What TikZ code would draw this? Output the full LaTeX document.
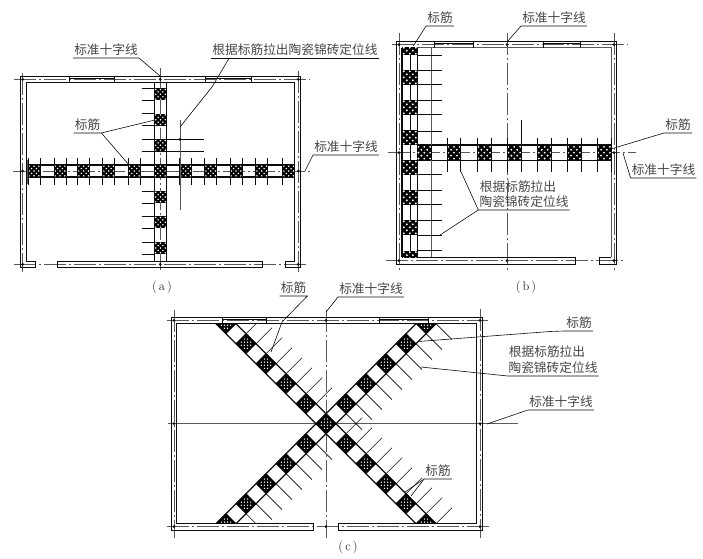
\documentclass[tikz,border=0pt]{standalone}
\usepackage{fontspec}
\newfontfamily\cjk{Noto Sans CJK SC}
\definecolor{ink}{gray}{0.05}
\definecolor{axisgrey}{gray}{0.35}
\tikzset{
  wall/.style={draw=ink,line width=0.9pt},
  winline/.style={draw=ink,line width=1.2pt},
  band/.style={draw=ink,line width=1.3pt},
  tickline/.style={draw=ink,line width=0.65pt},
  axisline/.style={draw=axisgrey,line width=0.6pt,dash pattern=on 22pt off 3pt on 2pt off 3pt},
  solidgrey/.style={draw=axisgrey,line width=0.9pt},
  leader/.style={draw=ink,line width=0.6pt},
  lbl/.style={font=\cjk\fontsize{12.7}{15}\selectfont,text=black!72,inner xsep=1pt,inner ysep=0pt,text height=12.5pt,text depth=3pt},
  captext/.style={font=\fontsize{12.5}{14}\selectfont,text=black!85,inner sep=0pt},
  axdot/.style={circle,fill=ink,inner sep=0pt,minimum size=3pt}
}
\newcommand\sqpat[3]{%
  \fill[black] ({#1-#3},{#2-#3}) rectangle ({#1+#3},{#2+#3});
  \foreach \ii in {-2,...,2}{\foreach \jj in {-2,...,2}{%
    \pgfmathtruncatemacro\ev{mod(abs(\ii+\jj),2)}%
    \ifnum\ev=0 \fill[white] ({#1+\ii*#3*0.4},{#2+\jj*#3*0.4}) circle (0.14*#3);\fi
  }}%
}
\newcommand\dmpat[2]{%
  \fill[black] ({#1-10.5},{#2}) -- ({#1},{#2-10.5}) -- ({#1+10.5},{#2}) -- ({#1},{#2+10.5}) -- cycle;
  \foreach \ii in {-3,-1,1,3}{\foreach \jj in {-3,-1,1,3}{%
    \pgfmathtruncatemacro\ins{abs(\ii)+abs(\jj)<=4 ? 1 : 0}%
    \ifnum\ins=1 \fill[white] ({#1+\ii*1.55},{#2+\jj*1.55}) circle (0.72);\fi
  }}%
}
\begin{document}
\begin{tikzpicture}[x=1pt,y=-1pt]
\useasboundingbox (0,0) rectangle (703,558);
\fill[white] (0,0) rectangle (703,558);

% ---------- (a) ----------
\draw[axisline] (14,79.3) -- (310,79.3);
\draw[axisline] (14,264.3) -- (308,264.3);
\draw[axisline] (22.7,73) -- (22.7,272);
\draw[axisline] (298.3,71) -- (298.3,272);
\draw[axisline] (160.3,68) -- (160.3,272);
\draw[axisline] (13,171) -- (313,171);
\draw[wall] (35.7,261) -- (26,261) -- (26,82.3) -- (294.7,82.3) -- (294.7,261) -- (285.7,261) -- (285.7,267) -- (300.5,267) -- (300.5,76.7) -- (20.7,76.7) -- (20.7,267) -- (35.7,267) -- cycle;
\draw[wall] (57.3,261) rectangle (262.3,267);
\draw[winline] (69,78.5) -- (114.3,78.5);
\draw[winline] (205.3,78.5) -- (251.3,78.5);
\draw[wall] (69,76.7) -- (69,82.3) (114.3,76.7) -- (114.3,82.3) (205.3,76.7) -- (205.3,82.3) (251.3,76.7) -- (251.3,82.3);
\draw[band] (154.7,82.3) -- (154.7,261) (166.3,82.3) -- (166.3,261);
\draw[band] (26,165) -- (294.7,165) (26,177) -- (294.7,177);
\foreach \yy in {94.3,119.7,145.3,197,222.3,248}{
  \sqpat{160.5}{\yy}{6}
  \draw[tickline] (141.7,\yy-6) -- (154.7,\yy-6) (141.7,\yy+6) -- (154.7,\yy+6);
}
\draw[tickline] (154.7,139.3) -- (204,139.3) (154.7,151.3) -- (204,151.3);
\foreach \xx in {34,60,83.7,108.7,134.3,160.3,185.7,210.7,236,261.7,288.7}{
  \sqpat{\xx}{171}{6}
}
\foreach \xx in {34,60,83.7,108.7,134.3,185.7,210.7,236,261.7,288.7}{
  \draw[tickline] (\xx-6,158) -- (\xx-6,184.7) (\xx+6,158) -- (\xx+6,184.7);
}
\draw[solidgrey] (180,120) -- (180,210);
\draw[solidgrey] (27,160) -- (27,184);
\foreach \pp in {(22.7,79.3),(298.3,79.3),(22.7,264.3),(298.3,264.3),(160.3,79.3),(160.3,264.3),(22.7,171),(298.3,171),(180,139.3)}{
  \node[axdot] at \pp {};
}
\node[lbl] (aStd) at (106,50) {标准十字线};
\coordinate (aStdT) at (160,76);
\draw[leader] (aStd.south west) -- (aStd.south east) -- (aStdT);
\node[lbl] (aGen) at (295,50) {根据标筋拉出陶瓷锦砖定位线};
\coordinate (aGenT) at (180,127);
\coordinate (aGenM) at (212,87);
\draw[leader] (aGen.south west) -- (aGen.south east);
\draw[leader] (aGen.south west) ++(18,0) coordinate (aGenS) -- (aGenM) -- (aGenT);
\node[lbl] (aBj) at (87.5,125) {标筋};
\coordinate (aBjA) at (155,120);
\coordinate (aBjB) at (129,165);
\draw[leader] (aBj.south west) -- (aBj.south east) -- (aBjA);
\draw[leader] (aBj.south east) -- (aBjB);
\node[lbl] (aStdR) at (346,147) {标准十字线};
\coordinate (aStdRT) at (305,171);
\draw[leader] (aStdR.south east) -- (aStdR.south west) -- (aStdRT);
\node[captext] (capA) at (162,287) {(\,a\,)};

% ---------- (b) ----------
\draw[axisline] (391.7,44.7) -- (627.7,44.7);
\draw[axisline] (385.7,260.7) -- (623,260.7);
\draw[axisline] (399,33) -- (399,270);
\draw[axisline] (614,33) -- (614,270);
\draw[axisline] (507,33) -- (507,271.7);
\draw[axisline] (388,152.7) -- (636,152.7);
\draw[wall] (396,264.3) -- (396,41.7) -- (616.7,41.7) -- (616.7,264.3) -- (599.3,264.3) -- (599.3,257.3) -- (611,257.3);
\draw[solidgrey,line width=0.7pt] (611,257.3) -- (611,47.7) -- (402,47.7);
\draw[wall] (396,264.3) -- (575,264.3) -- (575,257.3) -- (402,257.3);
\draw[winline] (434.3,43.5) -- (473.7,43.5);
\draw[winline] (543.7,43.5) -- (580.7,43.5);
\draw[wall] (434.3,41.7) -- (434.3,47.7) (473.7,41.7) -- (473.7,47.7) (543.7,41.7) -- (543.7,47.7) (580.7,41.7) -- (580.7,47.7);
\draw[band] (402,47.7) -- (402,257.3) (417.7,47.7) -- (417.7,257.3);
\draw[tickline] (410,47.7) -- (410,257.3);
\draw[band] (417.7,145) -- (611,145) (417.7,160.3) -- (611,160.3);
\draw[solidgrey,line width=0.7pt] (431.7,47.7) -- (431.7,145) (431.7,160.3) -- (431.7,256.7);
\begin{scope}
\clip (402,47.7) rectangle (418,257.3);
\foreach \yy in {47.7,77.3,107.3,137.7,167.7,197.3,227.3,258.2}{\sqpat{409.8}{\yy}{7.5}}
\end{scope}
\foreach \yy in {55,70.3,84.3,100.7,114.3,131,174.3,190.3,204,220,235,250.7}{
  \draw[tickline] (417.7,\yy) -- (442.3,\yy);
}
\foreach \xx in {424.3,454,484.3,514.3,544.7,574,604}{\sqpat{\xx}{152.7}{7.3}}
\foreach \xx in {447.3,460.7,477.3,491,507.3,521.7,537.7,551.7,567,581,597.3,611}{
  \draw[tickline] (\xx,138) -- (\xx,171.7);
}
\draw[tickline] (521.7,120) -- (521.7,138);
\foreach \pp in {(399,44.7),(614,44.7),(399,260.7),(614,260.7),(507,44.7),(507,260.7),(399,152.7),(614,152.7)}{
  \node[axdot] at \pp {};
}
\node[lbl] (bBj) at (440,18) {标筋};
\coordinate (bBjT) at (413.3,46);
\draw[leader] (bBj.south east) -- (bBj.south west) -- (bBjT);
\node[lbl] (bStd) at (554,18) {标准十字线};
\coordinate (bStdT) at (507,42);
\draw[leader] (bStd.south east) -- (bStd.south west) -- (bStdT);
\node[lbl] (bBjR) at (678,125) {标筋};
\coordinate (bBjRT) at (611,149);
\draw[leader] (bBjR.south east) -- (bBjR.south west) -- (bBjRT);
\node[lbl] (bStdR) at (663.5,170) {标准十字线};
\coordinate (bStdRT) at (623,153);
\draw[leader] (bStdR.south east) -- (bStdR.south west) -- (bStdRT);
\node[lbl] (bGen1) at (518,186.7) {根据标筋拉出};
\node[lbl] (bGen2) at (524,202) {陶瓷锦砖定位线};
\coordinate (bGenA) at (461,171.7);
\coordinate (bGenB) at (440,235);
\draw[leader] (bGen2.south east) -- (bGen2.south west) -- (bGenA);
\draw[leader] (bGen2.south west) -- (bGenB);
\node[captext] (capB) at (526,287) {(\,b\,)};

% ---------- (c) ----------
\draw[axisline] (166.7,320.3) -- (488,320.3);
\draw[axisline] (166.7,526.7) -- (490,526.7);
\draw[axisline] (174,310) -- (174,538);
\draw[axisline] (480,309) -- (480,538);
\draw[axisline] (326,310) -- (326,538);
\draw[solidgrey] (168,423.7) -- (518,423.7);
\draw[wall] (171.7,530) -- (171.7,317.7) -- (482.7,317.7) -- (482.7,530) -- (338.3,530) -- (338.3,523.3) -- (476,523.3) -- (476,323) -- (176.7,323) -- (176.7,523.3) -- (313.3,523.3) -- (313.3,530) -- cycle;
\draw[winline] (222.7,319.5) -- (266.7,319.5);
\draw[winline] (379,319.5) -- (428,319.5);
\draw[wall] (222.7,317.7) -- (222.7,323) (266.7,317.7) -- (266.7,323) (379,317.7) -- (379,323) (428,317.7) -- (428,323);
\begin{scope}
\clip (176.7,323) rectangle (476,523.3);
\foreach \ss in {-1,1}{
  \draw[band] ({326+10+120*\ss},{423.7+120}) -- ({326+10-120*\ss},{423.7-120});
  \draw[band] ({326-10+120*\ss},{423.7+120}) -- ({326-10-120*\ss},{423.7-120});
}
\foreach \kk in {-5,...,5}{\dmpat{326+\kk*20}{423.7+\kk*20}}
\foreach \kk in {-5,...,-1,1,2,3,4,5}{\dmpat{326-\kk*20}{423.7+\kk*20}}
% ticks of the NW-SE strip run up and right
\foreach \kk in {-5,-4,-3,-2,-1,1,2,3,4,5}{
  \draw[tickline] ({326+\kk*20},{423.7+\kk*20-10}) -- ++(16,-16);
  \draw[tickline] ({326+\kk*20+10},{423.7+\kk*20}) -- ++(16,-16);
}
% ticks of the NE-SW strip run down and right
\foreach \kk in {-5,-4,-3,-2,-1,1,2,3,4,5}{
  \draw[tickline] ({326-\kk*20},{423.7+\kk*20+10}) -- ++(16,16);
  \draw[tickline] ({326-\kk*20+10},{423.7+\kk*20}) -- ++(16,16);
}
\end{scope}
\foreach \pp in {(174,320.3),(480,320.3),(174,526.7),(480,526.7),(326,320.3),(326,526.7),(174,423.7),(480,423.7)}{
  \node[axdot] at \pp {};
}
\node[lbl] (cBjT) at (293.5,288) {标筋};
\coordinate (cBjTM) at (282,322);
\coordinate (cBjTA) at (271,352);
\draw[leader] (cBjT.south west) -- (cBjT.south east) -- (cBjTM) -- (cBjTA);
\node[lbl] (cStd) at (371,289) {标准十字线};
\coordinate (cStdT) at (326,312);
\draw[leader] (cStd.south east) -- (cStd.south west) -- (cStdT);
\node[lbl] (cBjR) at (579,323) {标筋};
\coordinate (cBjRA) at (418,341.5);
\coordinate (cBjRM) at (550,331.5);
\draw[leader] (cBjR.south east) -- (cBjR.south west) -- (cBjRM) -- (cBjRA);
\node[lbl] (cGen1) at (547,352) {根据标筋拉出};
\node[lbl] (cGen2) at (553,368) {陶瓷锦砖定位线};
\coordinate (cGenT) at (421,367);
\draw[leader] (cGen2.south east) -- (cGen2.south west) -- (cGenT);
\node[lbl] (cStdR) at (561,402) {标准十字线};
\coordinate (cStdRT) at (487,424);
\draw[leader] (cStdR.south east) -- (cStdR.south west) -- (cStdRT);
\node[lbl] (cBjB) at (438,471) {标筋};
\coordinate (cBjBA) at (405,492);
\coordinate (cBjBB) at (411,496);
\draw[leader] (cBjB.south east) -- (cBjB.south west) -- (cBjBA);
\draw[leader] (cBjB.south west) -- (cBjBB);
\node[captext] (capC) at (348,547) {(\,c\,)};
\end{tikzpicture}
\end{document}
